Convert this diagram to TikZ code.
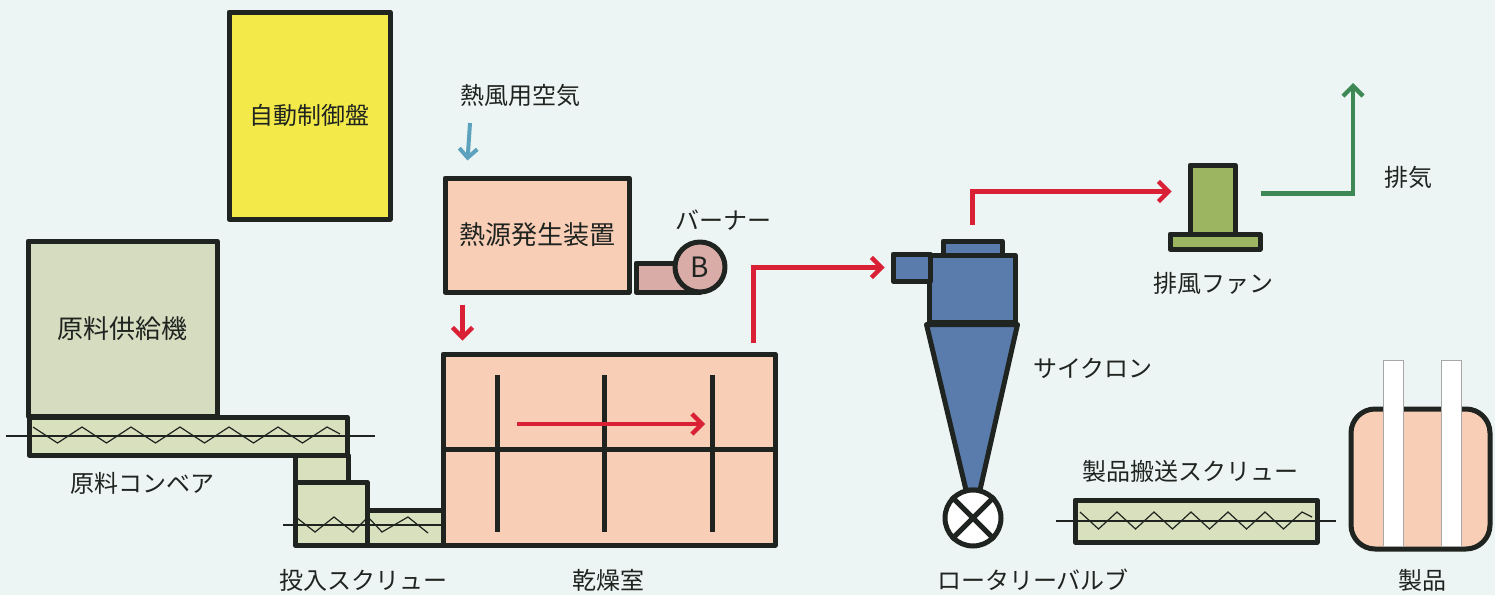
\documentclass[tikz,border=0pt]{standalone}
\usepackage{fontspec}
\newfontfamily\jpfont{Noto Sans CJK JP}
\usetikzlibrary{arrows.meta}
\definecolor{bgcol}{RGB}{237,245,244}
\definecolor{ink}{RGB}{32,36,32}
\definecolor{ctrlcol}{RGB}{243,234,74}
\definecolor{salmon}{RGB}{248,206,182}
\definecolor{burnercol}{RGB}{218,172,168}
\definecolor{feedcol}{RGB}{214,220,192}
\definecolor{screwcol}{RGB}{216,224,190}
\definecolor{cyclonecol}{RGB}{90,124,172}
\definecolor{fancol}{RGB}{156,181,96}
\definecolor{hotcol}{RGB}{218,32,52}
\definecolor{aircol}{RGB}{92,162,188}
\definecolor{exhcol}{RGB}{62,136,86}

\begin{document}
\begin{tikzpicture}[x=0.5pt,y=-0.5pt,
    every node/.style={font=\jpfont\fontsize{12}{14}\selectfont, text=ink},
    unit/.style={draw=ink, line width=2.5pt, inner sep=0pt, line join=round},
    wall/.style={draw=ink, line width=2.5pt},
    thread/.style={draw=ink, line width=0.6pt},
    hotflow/.style={draw=hotcol, line width=2.2pt, -{Straight Barb[length=5pt,width=10pt]}},
    airflow/.style={draw=aircol, line width=2pt, -{Straight Barb[length=4.5pt,width=9pt]}},
    exhflow/.style={draw=exhcol, line width=2.2pt, -{Straight Barb[length=5pt,width=10pt]}}]
  \useasboundingbox (0,0) rectangle (1495,595);
  \fill[bgcol] (0,0) rectangle (1495,595);
  \clip (0,0) rectangle (1495,595);

  % control panel and heat source
  \node[unit, fill=ctrlcol, minimum width=80.5pt, minimum height=103.5pt] (ctrl) at (309.5,115.5) {自動制御盤};
  \node (airtag) at (520,95) {熱風用空気};
  \coordinate (airin) at (470,123);
  \node[unit, fill=salmon, minimum width=92pt, minimum height=57pt, font=\jpfont\fontsize{13}{15}\selectfont] (heat) at (537,235) {熱源発生装置};
  \node[unit, fill=burnercol, minimum width=32pt, minimum height=14.5pt] (duct) at (668,277.5) {};
  \node[unit, circle, fill=burnercol, minimum size=25pt, font=\jpfont\fontsize{14}{14}\selectfont] (burner) at (700,267) {B};
  \node (burnertag) at (723,220) {バーナー};
  \draw[airflow] (airin) -- ([xshift=12.5pt,yshift=7.5pt]heat.north west);

  % raw material feed
  \node[unit, fill=feedcol, minimum width=94.5pt, minimum height=87.5pt, font=\jpfont\fontsize{13}{15}\selectfont] (feeder) at (122.5,328.5) {原料供給機};
  \node[unit, fill=screwcol, minimum width=159pt, minimum height=19pt] (conv) at (188,436) {};
  \draw[thread] ([xshift=-10.5pt]conv.west) -- ([xshift=12.5pt]conv.east);
  \draw[thread] (33,427) \foreach \k in {0,...,5} { -- ({57.5+49*\k},443) -- ({82+49*\k},427) } -- (340,434);
  \node (convtag) at (142,483) {原料コンベア};
  \node[unit, fill=screwcol, minimum width=26.5pt, minimum height=13.5pt] (chute) at (321.5,468.5) {};
  \node[unit, fill=screwcol, minimum width=36pt, minimum height=31.5pt] (hopper) at (331,513.5) {};
  \node[unit, fill=screwcol, minimum width=39pt, minimum height=17.5pt] (screw) at (406,527.5) {};
  \draw[thread] (283,525) -- (442,525);
  \draw[thread] (297,518) -- (315,532) -- (334,517) -- (353,532) -- (368,517) -- (382,532) -- (408,517) -- (428,533);
  \node (screwtag) at (363,580) {投入スクリュー};

  % dryer
  \node[unit, fill=salmon, minimum width=166pt, minimum height=95.5pt] (dryer) at (609,449.5) {};
  \draw[wall] (dryer.west) -- (dryer.east);
  \foreach \x in {497,604,712}
    \draw[wall] (\x,375) -- (\x,532);
  \draw[hotflow] (517,424) -- (705,424);
  \node (dryertag) at (608,580) {乾燥室};
  \draw[hotflow] ([xshift=10pt,yshift=-5pt]heat.south west) -- ([xshift=11pt,yshift=5.5pt]dryer.north west);

  % cyclone and rotary valve
  \node[unit, fill=cyclonecol, minimum width=43pt, minimum height=33.5pt] (cyl) at (972,288.5) {};
  \draw[unit, fill=cyclonecol] (cyl.south west) -- (cyl.south east) -- (980,490) -- (966,490) -- cycle;
  \node[unit, fill=cyclonecol, minimum width=18.5pt, minimum height=13.5pt] (inlet) at (911.5,267.5) {};
  \node[unit, fill=cyclonecol, minimum width=29.5pt, minimum height=7pt] (cap) at (972.5,248) {};
  \node[unit, circle, fill=white, minimum size=28pt] (valve) at (973,518) {};
  \draw[wall] (valve.north west) -- (valve.south east);
  \draw[wall] (valve.north east) -- (valve.south west);
  \node (cyctag) at (1093,368) {サイクロン};
  \node (valvetag) at (1033,580) {ロータリーバルブ};
  \draw[hotflow] ([xshift=-12pt,yshift=4.5pt]dryer.north east) |- ([xshift=-3pt]inlet.west);

  % exhaust fan
  \node[unit, fill=fancol, minimum width=22.5pt, minimum height=34.5pt] (fan) at (1212.5,199.5) {};
  \node[unit, fill=fancol, minimum width=45pt, minimum height=7.5pt] (fanbase) at (1215,241.5) {};
  \node (fantag) at (1213,283) {排風ファン};
  \draw[hotflow] ([yshift=7pt]cap.north) |- ([xshift=-8pt,yshift=4pt]fan.west);
  \coordinate (stack) at (1353,83);
  \draw[exhflow] ([xshift=11.5pt,yshift=3pt]fan.east) -| (stack);
  \node (exhtag) at (1408,177) {排気};

  % product screw and product bag
  \node[unit, fill=screwcol, minimum width=121pt, minimum height=21pt] (pscrew) at (1196,521) {};
  \draw[thread] ([xshift=-8.5pt]pscrew.west) -- ([xshift=8pt]pscrew.east);
  \draw[thread] (1080,512) \foreach \k in {0,...,5} { -- ({1098.5+37*\k},529) -- ({1117+37*\k},512) } -- (1312,517);
  \node (pscrewtag) at (1190,471) {製品搬送スクリュー};
  \node[unit, fill=salmon, rounded corners=12pt, minimum width=69.5pt, minimum height=70pt] (bag) at (1420.5,479) {};
  \foreach \x in {1383,1441}
    \draw[fill=white, draw=ink!40, line width=0.5pt] (\x,360) rectangle ++(20,186);
  \node (bagtag) at (1422,580) {製品};
\end{tikzpicture}
\end{document}
